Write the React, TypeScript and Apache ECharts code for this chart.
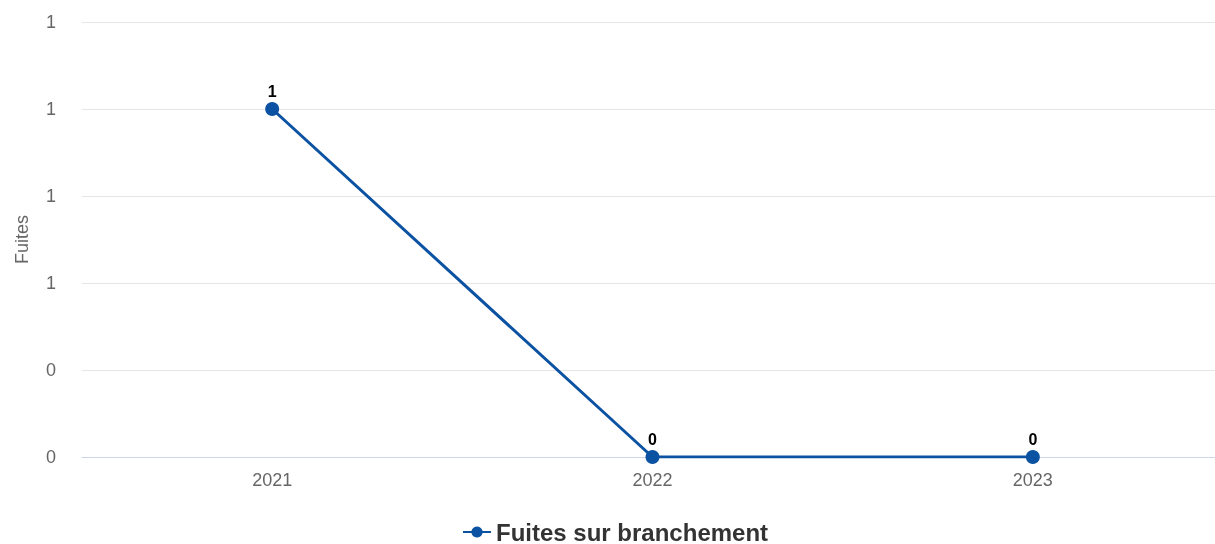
import React, { useEffect, useRef } from "react";
import * as echarts from "echarts";

const categories = ["2021", "2022", "2023"];
const seriesName = "Fuites sur branchement";
const values = [1, 0, 0];
const yAxisName = "Fuites";

const FONT = "'Liberation Sans', Arial, sans-serif";

export default function App() {
  const ref = useRef<HTMLDivElement>(null);
  useEffect(() => {
    document.body.style.margin = "0";
    document.body.style.overflow = "hidden";
    const chart = echarts.init(ref.current!, null, { renderer: "svg" });
    chart.setOption({
      animation: false,
      textStyle: { fontFamily: FONT },
      grid: { left: 82, top: 22, width: 1141, height: 435, containLabel: false },
      legend: {
        data: [seriesName],
        top: 520,
        left: 462,
        padding: 0,
        itemWidth: 28,
        itemHeight: 14,
        itemGap: 7,
        textStyle: { fontSize: 24, fontWeight: "bold", color: "#333333", fontFamily: FONT, lineHeight: 20, padding: [0, 0, 0, 0] },
      },
      xAxis: {
        type: "category",
        data: categories,
        boundaryGap: true,
        axisLine: { lineStyle: { color: "#ccd6eb", width: 1 } },
        axisTick: { show: false },
        axisLabel: { color: "#666666", fontSize: 18, margin: 14, fontFamily: FONT },
      },
      yAxis: {
        type: "value",
        min: 0,
        max: 1.25,
        interval: 0.25,
        name: yAxisName,
        nameLocation: "middle",
        nameRotate: 90,
        nameGap: 51,
        nameTextStyle: { color: "#666666", fontSize: 18, fontFamily: FONT },
        axisLabel: {
          color: "#666666",
          fontSize: 18,
          margin: 26,
          fontFamily: FONT,
          formatter: (v: number) => String(Math.round(v)),
        },
        splitLine: { lineStyle: { color: "#e6e6e6", width: 1 } },
        axisLine: { show: false },
        axisTick: { show: false },
      },
      series: [
        {
          name: seriesName,
          type: "line",
          data: values,
          symbol: "circle",
          symbolSize: 14,
          itemStyle: { color: "#0c52a2" },
          lineStyle: { color: "#0c52a2", width: 3 },
          label: {
            show: true,
            position: "top",
            distance: 3,
            color: "#000000",
            fontSize: 16,
            fontWeight: "bold",
            fontFamily: FONT,
          },
        },
      ],
    });
    return () => chart.dispose();
  }, []);
  return <div ref={ref} style={{ position: "fixed", left: 0, top: 0, width: 1232, height: 544 }} />;
}
